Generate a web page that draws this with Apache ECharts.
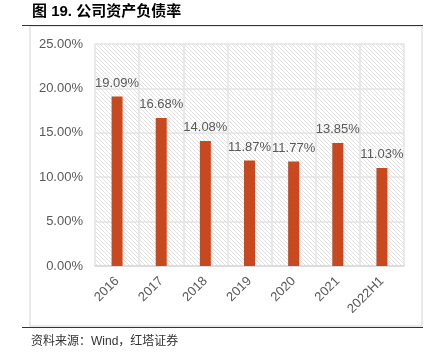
<!DOCTYPE html>
<html><head><meta charset="utf-8">
<script src="https://cdn.jsdelivr.net/npm/echarts@6/dist/echarts.min.js"></script>
<style>html,body{margin:0;padding:0;background:#fff;}#c{width:433px;height:358px;}</style>
</head><body><div id="c"></div>
<script>
const categories = ['2016','2017','2018','2019','2020','2021','2022H1'];
const debtRatio = [19.09, 16.68, 14.08, 11.87, 11.77, 13.85, 11.03];
const yTicks = {min: 0, max: 25, interval: 5};
const titleText = '图 19. 公司资产负债率';
const sourceText = '资料来源：Wind，红塔证券';

const tile = document.createElement('canvas');
tile.width = 8; tile.height = 8;
const g = tile.getContext('2d');
g.fillStyle = '#ffffff'; g.fillRect(0,0,8,8);
g.strokeStyle = '#d9d9d9'; g.lineWidth = 0.8;
for (let k = -16; k <= 16; k += 4) {
  g.beginPath(); g.moveTo(k, 0); g.lineTo(k + 8, 8); g.stroke();
}

const chart = echarts.init(document.getElementById('c'), null, {renderer: 'canvas'});
const font = '"Liberation Sans", Arial, sans-serif';
chart.setOption({
  animation: false,
  backgroundColor: '#ffffff',
  graphic: [
    {type: 'text', left: 32, top: 4, style: {text: titleText, font: 'bold 15px "Liberation Sans", "Noto Sans CJK SC", sans-serif', fill: '#000'}},
    {type: 'rect', shape: {x: 30, y: 26, width: 392, height: 300}, style: {fill: 'none', stroke: '#e3e3e3', lineWidth: 1.5}, z: 0},
    {type: 'line', shape: {x1: 22, y1: 25.5, x2: 423, y2: 25.5}, style: {stroke: '#333', lineWidth: 1.2}},
    {type: 'line', shape: {x1: 22, y1: 327.5, x2: 423, y2: 327.5}, style: {stroke: '#333', lineWidth: 1.2}},
    {type: 'text', left: 31, top: 336, style: {text: sourceText, font: '12px "Liberation Sans", "Noto Sans CJK SC", sans-serif', fill: '#333'}}
  ],
  grid: {left: 95, top: 44, right: 29, bottom: 92, show: true, borderWidth: 0,
    backgroundColor: {image: tile, repeat: 'repeat'}},
  xAxis: {
    type: 'category', data: categories,
    axisLine: {lineStyle: {color: '#d9d9d9', width: 1.5}},
    axisTick: {show: false},
    splitLine: {show: true, interval: 0, lineStyle: {color: '#e3e3e3', width: 1.5}},
    axisLabel: {rotate: 45, margin: 13, color: '#595959', fontSize: 13, fontFamily: font, interval: 0}
  },
  yAxis: {
    type: 'value', min: yTicks.min, max: yTicks.max, interval: yTicks.interval,
    axisLine: {show: false}, axisTick: {show: false},
    splitLine: {lineStyle: {color: '#e3e3e3', width: 1.5}},
    axisLabel: {margin: 12, color: '#595959', fontSize: 13, fontFamily: font,
      formatter: v => v.toFixed(2) + '%'}
  },
  series: [{
    type: 'bar', data: debtRatio, barWidth: 11,
    itemStyle: {color: '#C8491F'},
    label: {show: true, position: 'top', distance: 7, color: '#595959', fontSize: 13, fontFamily: font,
      formatter: p => p.value.toFixed(2) + '%'}
  }]
});
</script></body></html>
